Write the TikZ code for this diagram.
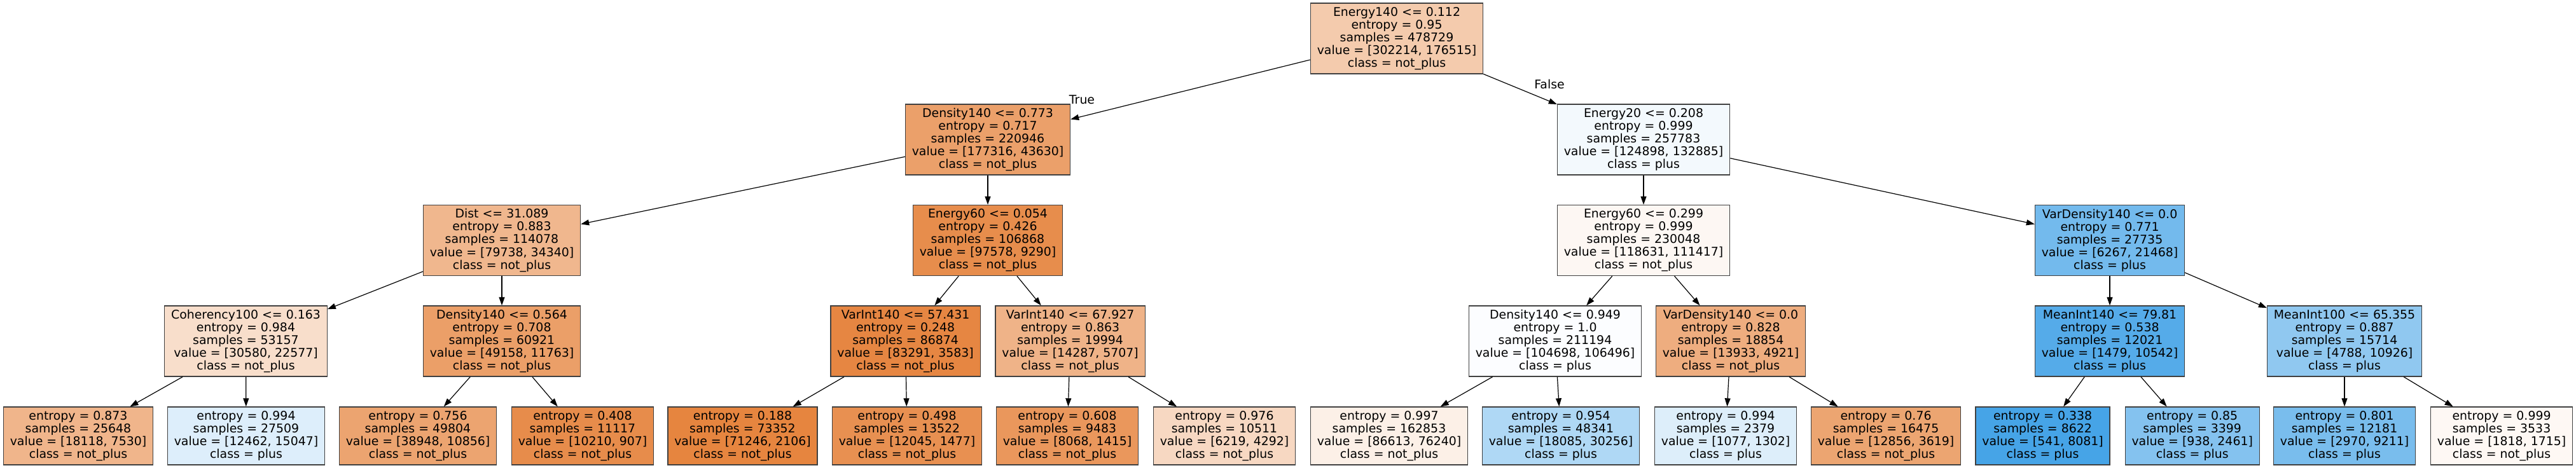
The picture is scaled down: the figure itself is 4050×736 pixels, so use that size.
\documentclass[tikz,border=0pt]{standalone}
\usepackage{fontspec}
\setmainfont{DejaVu Sans}
\usetikzlibrary{arrows.meta}
\definecolor{cnot}{RGB}{229,129,57}
\definecolor{cplus}{RGB}{57,157,229}
\tikzset{decision/.style={draw=black!75, line width=1.3pt, align=center, inner xsep=10.3pt, inner ysep=0pt,
    minimum height=111pt, font=\fontsize{18.9}{20.1}\selectfont},
  leafbox/.style={decision, minimum height=91pt},
  branch/.style={-{Triangle[length=13pt,width=9pt]}, line width=1.2pt},
  lbl/.style={inner sep=0pt, font=\fontsize{18.9}{20.1}\selectfont}}
\begin{document}
\begin{tikzpicture}[x=1pt, y=-1pt]
	\useasboundingbox (0,0) rectangle (4050,736);
	% splits, top to bottom
	\node[decision, fill=cnot!41.6!white] (root) at (2196,60.5) {Energy140 <= 0.112\\entropy = 0.95\\samples = 478729\\value = [302214, 176515]\\class = not\_plus};
	\node[decision, fill=cnot!75.4!white] (dens773) at (1553,219.5) {Density140 <= 0.773\\entropy = 0.717\\samples = 220946\\value = [177316, 43630]\\class = not\_plus};
	\node[decision, fill=cplus!6.0!white] (en20) at (2584,219.5) {Energy20 <= 0.208\\entropy = 0.999\\samples = 257783\\value = [124898, 132885]\\class = plus};
	\node[decision, fill=cnot!56.9!white] (dist) at (789,378) {Dist <= 31.089\\entropy = 0.883\\samples = 114078\\value = [79738, 34340]\\class = not\_plus};
	\node[decision, fill=cnot!90.5!white] (en054) at (1553,378) {Energy60 <= 0.054\\entropy = 0.426\\samples = 106868\\value = [97578, 9290]\\class = not\_plus};
	\node[decision, fill=cnot!6.1!white] (en299) at (2584,378) {Energy60 <= 0.299\\entropy = 0.999\\samples = 230048\\value = [118631, 111417]\\class = not\_plus};
	\node[decision, fill=cplus!70.8!white] (vdensR) at (3317,378) {VarDensity140 <= 0.0\\entropy = 0.771\\samples = 27735\\value = [6267, 21468]\\class = plus};
	\node[decision, fill=cnot!26.2!white] (coh) at (386.5,536.5) {Coherency100 <= 0.163\\entropy = 0.984\\samples = 53157\\value = [30580, 22577]\\class = not\_plus};
	\node[decision, fill=cnot!76.1!white] (dens564) at (789,536.5) {Density140 <= 0.564\\entropy = 0.708\\samples = 60921\\value = [49158, 11763]\\class = not\_plus};
	\node[decision, fill=cnot!95.7!white] (vint57) at (1423.6,536.5) {VarInt140 <= 57.431\\entropy = 0.248\\samples = 86874\\value = [83291, 3583]\\class = not\_plus};
	\node[decision, fill=cnot!60.1!white] (vint67) at (1682.6,536.5) {VarInt140 <= 67.927\\entropy = 0.863\\samples = 19994\\value = [14287, 5707]\\class = not\_plus};
	\node[decision, fill=cplus!1.7!white] (dens949) at (2445,536.5) {Density140 <= 0.949\\entropy = 1.0\\samples = 211194\\value = [104698, 106496]\\class = plus};
	\node[decision, fill=cnot!64.7!white] (vdensL) at (2721,536.5) {VarDensity140 <= 0.0\\entropy = 0.828\\samples = 18854\\value = [13933, 4921]\\class = not\_plus};
	\node[decision, fill=cplus!86.0!white] (mint140) at (3317,536.5) {MeanInt140 <= 79.81\\entropy = 0.538\\samples = 12021\\value = [1479, 10542]\\class = plus};
	\node[decision, fill=cplus!56.2!white] (mint100) at (3686,536.5) {MeanInt100 <= 65.355\\entropy = 0.887\\samples = 15714\\value = [4788, 10926]\\class = plus};
	% leaves
	\node[leafbox, fill=cnot!58.4!white] (leaf1) at (123,685.5) {entropy = 0.873\\samples = 25648\\value = [18118, 7530]\\class = not\_plus};
	\node[leafbox, fill=cplus!17.2!white] (leaf2) at (387,685.5) {entropy = 0.994\\samples = 27509\\value = [12462, 15047]\\class = plus};
	\node[leafbox, fill=cnot!72.1!white] (leaf3) at (657,685.5) {entropy = 0.756\\samples = 49804\\value = [38948, 10856]\\class = not\_plus};
	\node[leafbox, fill=cnot!91.1!white] (leaf4) at (916,685.5) {entropy = 0.408\\samples = 11117\\value = [10210, 907]\\class = not\_plus};
	\node[leafbox, fill=cnot!97.0!white] (leaf5) at (1167.5,685.5) {entropy = 0.188\\samples = 73352\\value = [71246, 2106]\\class = not\_plus};
	\node[leafbox, fill=cnot!87.7!white] (leaf6) at (1426,685.5) {entropy = 0.498\\samples = 13522\\value = [12045, 1477]\\class = not\_plus};
	\node[leafbox, fill=cnot!82.5!white] (leaf7) at (1678,685.5) {entropy = 0.608\\samples = 9483\\value = [8068, 1415]\\class = not\_plus};
	\node[leafbox, fill=cnot!31.0!white] (leaf8) at (1925,685.5) {entropy = 0.976\\samples = 10511\\value = [6219, 4292]\\class = not\_plus};
	\node[leafbox, fill=cnot!12.0!white] (leaf9) at (2184,685.5) {entropy = 0.997\\samples = 162853\\value = [86613, 76240]\\class = not\_plus};
	\node[leafbox, fill=cplus!40.2!white] (leaf10) at (2454,685.5) {entropy = 0.954\\samples = 48341\\value = [18085, 30256]\\class = plus};
	\node[leafbox, fill=cplus!17.3!white] (leaf11) at (2713,685.5) {entropy = 0.994\\samples = 2379\\value = [1077, 1302]\\class = plus};
	\node[leafbox, fill=cnot!71.8!white] (leaf12) at (2965,685.5) {entropy = 0.76\\samples = 16475\\value = [12856, 3619]\\class = not\_plus};
	\node[leafbox, fill=cplus!93.3!white] (leaf13) at (3211.6,685.5) {entropy = 0.338\\samples = 8622\\value = [541, 8081]\\class = plus};
	\node[leafbox, fill=cplus!61.9!white] (leaf14) at (3446.7,685.5) {entropy = 0.85\\samples = 3399\\value = [938, 2461]\\class = plus};
	\node[leafbox, fill=cplus!67.8!white] (leaf15) at (3686,685.5) {entropy = 0.801\\samples = 12181\\value = [2970, 9211]\\class = plus};
	\node[leafbox, fill=cnot!5.7!white] (leaf16) at (3933,685.5) {entropy = 0.999\\samples = 3533\\value = [1818, 1715]\\class = not\_plus};
	% branches
	\draw[branch] (root) -- (dens773);
	\draw[branch] (root) -- (en20);
	\draw[branch] (dens773) -- (dist);
	\draw[branch] (dens773) -- (en054);
	\draw[branch] (en20) -- (en299);
	\draw[branch] (en20) -- (vdensR);
	\draw[branch] (dist) -- (coh);
	\draw[branch] (dist) -- (dens564);
	\draw[branch] (en054) -- (vint57);
	\draw[branch] (en054) -- (vint67);
	\draw[branch] (en299) -- (dens949);
	\draw[branch] (en299) -- (vdensL);
	\draw[branch] (vdensR) -- (mint140);
	\draw[branch] (vdensR) -- (mint100);
	\draw[branch] (coh) -- (leaf1);
	\draw[branch] (coh) -- (leaf2);
	\draw[branch] (dens564) -- (leaf3);
	\draw[branch] (dens564) -- (leaf4);
	\draw[branch] (vint57) -- (leaf5);
	\draw[branch] (vint57) -- (leaf6);
	\draw[branch] (vint67) -- (leaf7);
	\draw[branch] (vint67) -- (leaf8);
	\draw[branch] (dens949) -- (leaf9);
	\draw[branch] (dens949) -- (leaf10);
	\draw[branch] (vdensL) -- (leaf11);
	\draw[branch] (vdensL) -- (leaf12);
	\draw[branch] (mint140) -- (leaf13);
	\draw[branch] (mint140) -- (leaf14);
	\draw[branch] (mint100) -- (leaf15);
	\draw[branch] (mint100) -- (leaf16);
	\node[lbl] (truelbl) at (1701,157) {True};
	\node[lbl] (falselbl) at (2436,132) {False};
\end{tikzpicture}
\end{document}
